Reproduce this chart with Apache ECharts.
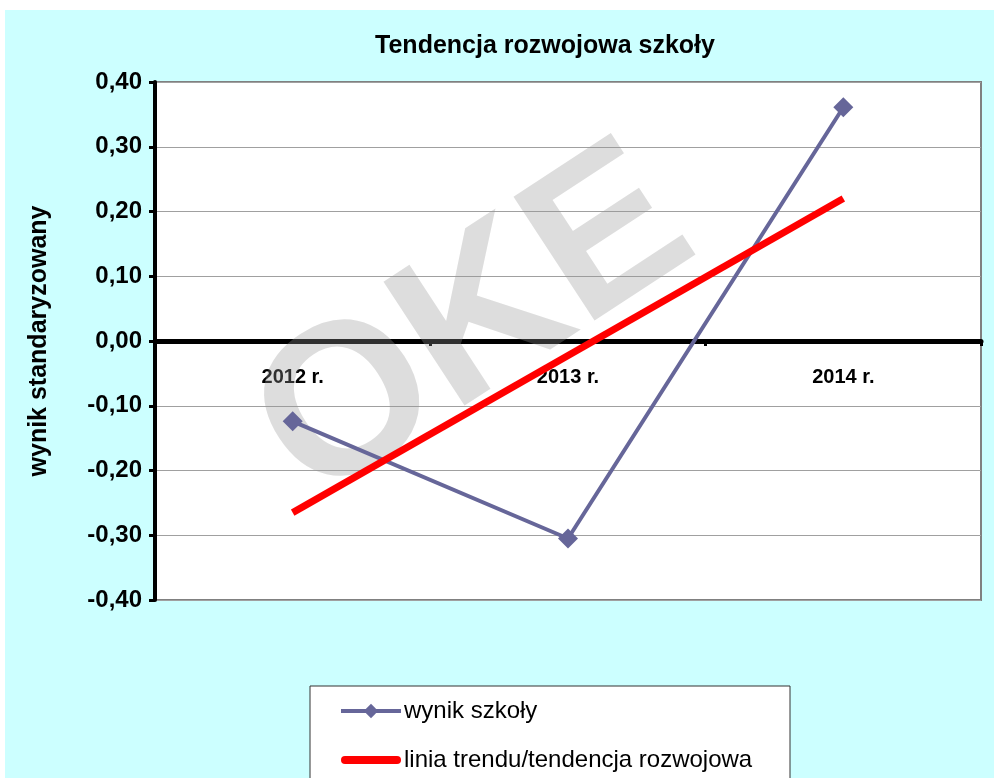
<!DOCTYPE html>
<html>
<head>
<meta charset="utf-8">
<script src="https://cdn.jsdelivr.net/npm/echarts@6/dist/echarts.min.js"></script>
<style>
    html, body { margin: 0; padding: 0; background: #ffffff; }
    #main { position: absolute; left: 5px; top: 10px; width: 989px; height: 768px; background: #ccffff; }
</style>
</head>
<body>
<div id="main"></div>
<script>
    const years = ['2012 r.', '2013 r.', '2014 r.'];
    const wynikSzkoly = [-0.124, -0.305, 0.361];
    const liniaTrendu = [-0.265, null, 0.220];

    const fmt = v => v.toFixed(2).replace('.', ',');

    // grid in px (inside the cyan div)
    const gridTop = 72, gridBottom = 178;
    const gridH = 768 - gridTop - gridBottom;

    const chart = echarts.init(document.getElementById('main'));
    chart.setOption({
        animation: false,
        textStyle: { fontFamily: 'Liberation Sans, Arial, sans-serif' },
        title: {
            text: 'Tendencja rozwojowa szkoły',
            left: 535, top: 19, textAlign: 'center',
            textStyle: { fontSize: 25, fontWeight: 'bold', color: '#000' }
        },
        grid: {
            left: 150, right: 13, top: gridTop, bottom: gridBottom,
            show: true, backgroundColor: '#ffffff', borderColor: '#808080', borderWidth: 2
        },
        graphic: [
            {
                // watermark in the plot area
                type: 'text', z: 1, x: 470, y: 318, rotation: 0.58,
                style: {
                    text: 'OKE', fontSize: 215, fontWeight: 'bold',
                    align: 'center', verticalAlign: 'middle',
                    fill: 'rgba(150,150,150,0.32)', fontFamily: 'Liberation Sans, Arial'
                }
            },
            {
                type: 'rect', z: 0, shape: { x: 305, y: 676, width: 480, height: 140 },
                style: { fill: '#ffffff', stroke: '#333333', lineWidth: 1 }
            }
        ],
        legend: {
            orient: 'vertical', left: 334, top: 689,
            padding: 0, itemGap: 25, itemWidth: 60, itemHeight: 18,
            lineStyle: { width: 4 },
            textStyle: { fontSize: 24, color: '#000', padding: [0, 0, 0, -2] },
            data: [
                { name: 'wynik szkoły' },
                { name: 'linia trendu/tendencja rozwojowa', icon: 'path://M4,0 L56,0 A4,4 0 0 1 56,8 L4,8 A4,4 0 0 1 4,0 Z' }
            ]
        },
        xAxis: {
            type: 'category', data: years,
            offset: -gridH / 2,
            axisLine: { onZero: false, lineStyle: { color: '#000', width: 5 } },
            axisTick: { show: true, length: 5, lineStyle: { color: '#000', width: 3 } },
            axisLabel: { margin: 26, fontSize: 20, fontWeight: 'bold', color: '#000' },
            splitLine: { show: false }
        },
        yAxis: {
            type: 'value', min: -0.4, max: 0.4, interval: 0.1,
            name: 'wynik standaryzowany', nameLocation: 'middle', nameGap: 103,
            nameTextStyle: { fontSize: 25, fontWeight: 'bold', color: '#000' },
            axisLine: { show: true, lineStyle: { color: '#000', width: 4 } },
            axisTick: { show: true, length: 6, lineStyle: { color: '#000', width: 3 } },
            axisLabel: { fontSize: 24, fontWeight: 'bold', color: '#000', margin: 13, formatter: v => fmt(v) },
            splitLine: { lineStyle: { color: '#a0a0a0', width: 1 } }
        },
        series: [
            {
                name: 'wynik szkoły', type: 'line', data: wynikSzkoly, z: 3,
                symbol: 'diamond', symbolSize: 20,
                lineStyle: { color: '#666699', width: 4 },
                itemStyle: { color: '#666699' }
            },
            {
                name: 'linia trendu/tendencja rozwojowa', type: 'line', data: liniaTrendu, z: 4,
                connectNulls: true, symbol: 'none',
                lineStyle: { color: '#ff0000', width: 7 },
                itemStyle: { color: '#ff0000' }
            }
        ]
    });
</script>
</body>
</html>
